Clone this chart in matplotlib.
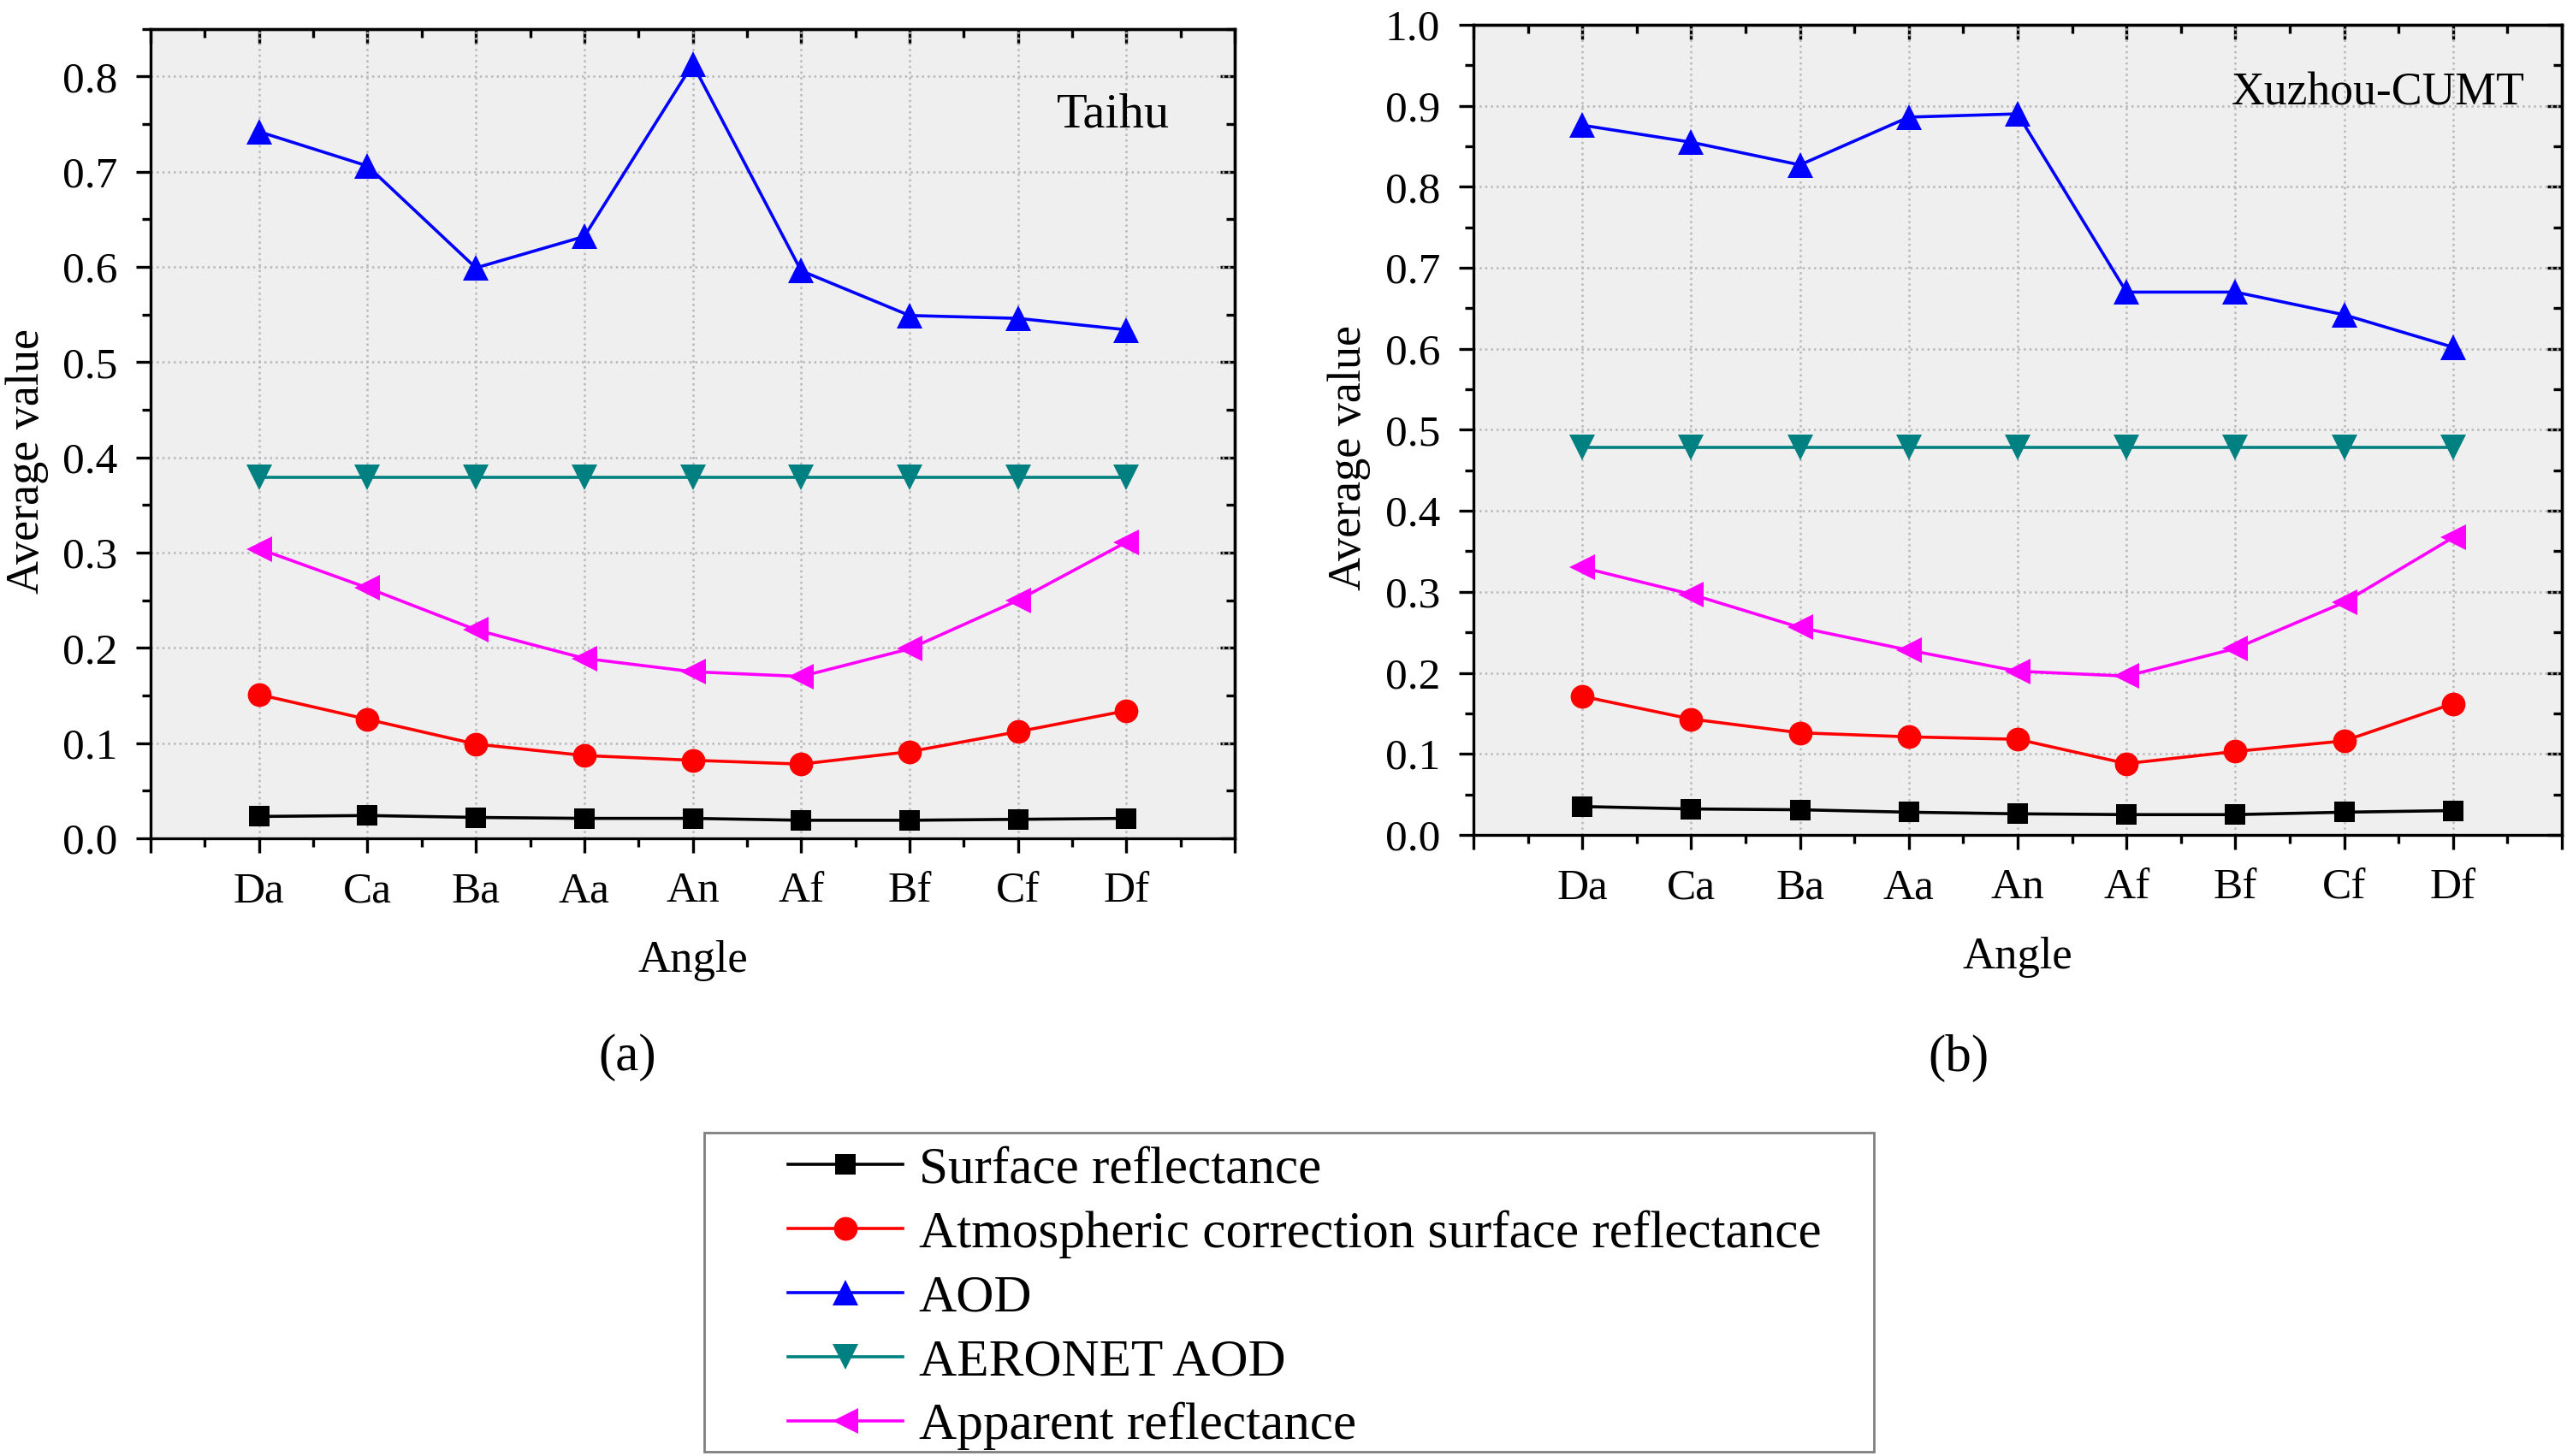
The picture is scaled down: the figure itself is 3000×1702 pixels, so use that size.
import matplotlib
matplotlib.use('Agg')
import matplotlib.pyplot as plt
from matplotlib.ticker import MultipleLocator, FormatStrFormatter
from matplotlib.patches import Rectangle

plt.rcParams['font.family'] = ['Liberation Serif', 'DejaVu Serif']

angles = ['Da', 'Ca', 'Ba', 'Aa', 'An', 'Af', 'Bf', 'Cf', 'Df']

# (a) Taihu
taihu_surface = [0.023, 0.024, 0.022, 0.021, 0.021, 0.019, 0.019, 0.020, 0.021]
taihu_atmos = [0.151, 0.125, 0.099, 0.087, 0.082, 0.078, 0.091, 0.112, 0.134]
taihu_aod = [0.742, 0.706, 0.599, 0.632, 0.813, 0.596, 0.549, 0.546, 0.534]
taihu_aeronet = [0.379] * 9
taihu_apparent = [0.304, 0.263, 0.219, 0.189, 0.175, 0.170, 0.199, 0.250, 0.311]

# (b) Xuzhou-CUMT
xz_surface = [0.035, 0.032, 0.031, 0.028, 0.026, 0.025, 0.025, 0.028, 0.030]
xz_atmos = [0.171, 0.143, 0.126, 0.121, 0.118, 0.088, 0.103, 0.116, 0.162]
xz_aod = [0.876, 0.855, 0.827, 0.886, 0.890, 0.670, 0.670, 0.642, 0.602]
xz_aeronet = [0.478] * 9
xz_apparent = [0.330, 0.297, 0.256, 0.228, 0.202, 0.196, 0.230, 0.287, 0.367]

labels = ['Surface reflectance', 'Atmospheric correction surface reflectance',
          'AOD', 'AERONET AOD', 'Apparent reflectance']
colors = ['black', '#ff0000', '#0000ff', '#008080', '#ff00ff']
markers = ['s', 'o', '^', 'v', '<']
msizes = [8.5, 10, 11, 11, 11]

x = list(range(1, len(angles) + 1))

fig = plt.figure(figsize=(15, 8.51), dpi=200)
ax1 = fig.add_axes([0.0587, 0.4242, 0.4223, 0.556])
ax2 = fig.add_axes([0.574, 0.4266, 0.424, 0.5564])


def draw(ax, series, ymax, site, tx, ty, tsize):
    ax.set_facecolor('#efefef')
    for vals, c, m, ms, lab in zip(series, colors, markers, msizes, labels):
        ax.plot(x, vals, color=c, marker=m, markersize=ms, lw=1.3,
                markeredgewidth=0, label=lab, zorder=3)
    ax.set_xlim(0, 10)
    ax.set_ylim(0, ymax)
    ax.xaxis.set_minor_locator(MultipleLocator(0.5))
    ax.yaxis.set_major_locator(MultipleLocator(0.1))
    ax.yaxis.set_minor_locator(MultipleLocator(0.05))
    ax.set_xticks(range(0, 11))
    ax.set_xticklabels([''] + angles + [''])
    ax.yaxis.set_major_formatter(FormatStrFormatter('%.1f'))
    ax.grid(True, which='major', color='#b8b8b8', ls=':', lw=0.9, zorder=0)
    ax.set_axisbelow(True)
    for s in ax.spines.values():
        s.set_linewidth(1.2)
    ax.tick_params(which='major', direction='out', length=6, width=1.2,
                   labelsize=18.5, pad=8)
    ax.tick_params(which='minor', direction='out', length=3.5, width=1.2)
    # mirrored ticks on top/right pointing inward
    top = ax.secondary_xaxis('top')
    top.xaxis.set_major_locator(MultipleLocator(1))
    top.xaxis.set_minor_locator(MultipleLocator(0.5))
    top.tick_params(which='major', direction='in', length=6, width=1.2, labeltop=False)
    top.tick_params(which='minor', direction='in', length=3.5, width=1.2)
    top.spines['top'].set_linewidth(1.2)
    right = ax.secondary_yaxis('right')
    right.yaxis.set_major_locator(MultipleLocator(0.1))
    right.yaxis.set_minor_locator(MultipleLocator(0.05))
    right.tick_params(which='major', direction='in', length=6, width=1.2, labelright=False)
    right.tick_params(which='minor', direction='in', length=3.5, width=1.2)
    right.spines['right'].set_linewidth(1.2)
    ax.set_xlabel('Angle', fontsize=19, labelpad=12)
    ax.set_ylabel('Average value', fontsize=19.5)
    ax.yaxis.set_label_coords(-0.094, 0.466)
    ax.text(tx, ty, site, transform=ax.transAxes, fontsize=tsize, ha='right', va='center')


draw(ax1, [taihu_surface, taihu_atmos, taihu_aod, taihu_aeronet, taihu_apparent],
     0.85, 'Taihu', 0.94, 0.893, 21)
draw(ax2, [xz_surface, xz_atmos, xz_aod, xz_aeronet, xz_apparent],
     1.0, 'Xuzhou-CUMT', 0.966, 0.915, 19.3)

fig.text(0.2445, 0.2735, '(a)', fontsize=22, ha='center', va='center')
fig.text(0.763, 0.2735, '(b)', fontsize=22, ha='center', va='center')

# legend frame drawn separately so the padding matches the original
fig.patches.append(Rectangle((0.2743, 0.003), 0.4557, 0.2191, transform=fig.transFigure,
                             facecolor='white', edgecolor='#808080', lw=1.0, zorder=0))

handles, labs = ax1.get_legend_handles_labels()
fig.legend(handles, labs, loc='upper left', bbox_to_anchor=(0.307, 0.213),
           fontsize=22, frameon=False, handlelength=2.2,
           handletextpad=0.3, labelspacing=0.31, borderpad=0,
           borderaxespad=0)

fig.savefig('out.png', dpi=200)
